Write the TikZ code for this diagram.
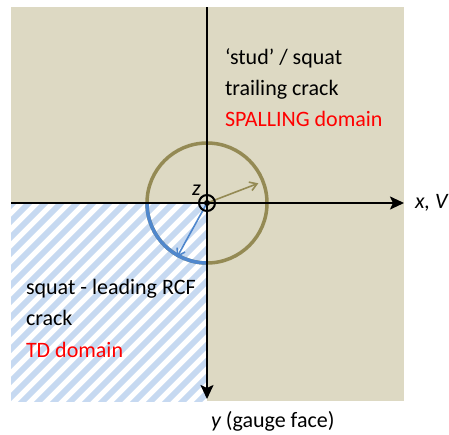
\documentclass[tikz,border=0pt]{standalone}
\usepackage{fontspec}
\setmainfont{Carlito}
\usetikzlibrary{arrows.meta}
\definecolor{beige}{RGB}{221,217,195}
\definecolor{hatchblue}{RGB}{198,217,241}
\definecolor{olivec}{RGB}{148,138,84}
\definecolor{arcblue}{RGB}{79,135,205}
\definecolor{domred}{RGB}{255,0,0}
\begin{document}
\begin{tikzpicture}[x=1pt,y=-1pt,
  txt/.style={font=\fontsize{22}{31}\selectfont, anchor=base west, inner sep=0pt, outer sep=0pt},
  axisline/.style={line width=2pt, -{Stealth[length=14pt,width=13pt,inset=3pt]}},
  ring/.style={line width=3.5pt},
  vec/.style={line width=1.6pt, -{Straight Barb[length=7pt,width=9pt]}}]
\useasboundingbox (0,0) rectangle (449,434);
% background
\fill[beige] (11,7) rectangle (404,401);
\begin{scope}
  \clip (11,203) rectangle (207,401);
  \fill[white] (11,203) rectangle (207,401);
  \foreach \a in {-210,-194,...,230}
    \draw[hatchblue, line width=5.7pt] (\a,410) -- (\a+220,190);
\end{scope}
\coordinate (O) at (207,203);
% circle and arc
\draw[olivec, ring] (O) circle[radius=60pt];
\draw[arcblue, ring] ([shift={(180:60pt)}]O) arc[start angle=180, end angle=270, radius=60pt];
% vectors
\coordinate (oe) at ([shift={(21:55pt)}]O);
\coordinate (be) at ([shift={(241:62pt)}]O);
\draw[olivec, vec] (O) -- (oe);
\draw[arcblue, vec] (O) -- (be);
% axes
\coordinate (xs) at (11,203);
\coordinate (xe) at (404,203);
\coordinate (ys) at (207,7);
\coordinate (ye) at (207,399);
\draw[axisline] (xs) -- (xe);
\draw[axisline] (ys) -- (ye);
% origin symbol
\node[circle, draw, line width=2pt, minimum size=16pt, inner sep=0pt] (orig) at (O) {};
\fill (O) circle[radius=3pt];
% labels
\node[txt] (zl) at (192,195) {\itshape z};
\node[txt] (xl) at (415,208) {\itshape x, V};
\node[txt] (yl) at (211,427) {\itshape y\upshape\ (gauge face)};
\node[txt] (t1) at (225,64) {‘stud’ / squat};
\node[txt] (t2) at (225,95) {trailing crack};
\node[txt, text=domred] (t3) at (225,126) {SPALLING domain};
\node[txt] (s1) at (26,294) {squat - leading RCF};
\node[txt] (s2) at (26,325) {crack};
\node[txt, text=domred] (s3) at (26,357) {TD domain};
\end{tikzpicture}
\end{document}
